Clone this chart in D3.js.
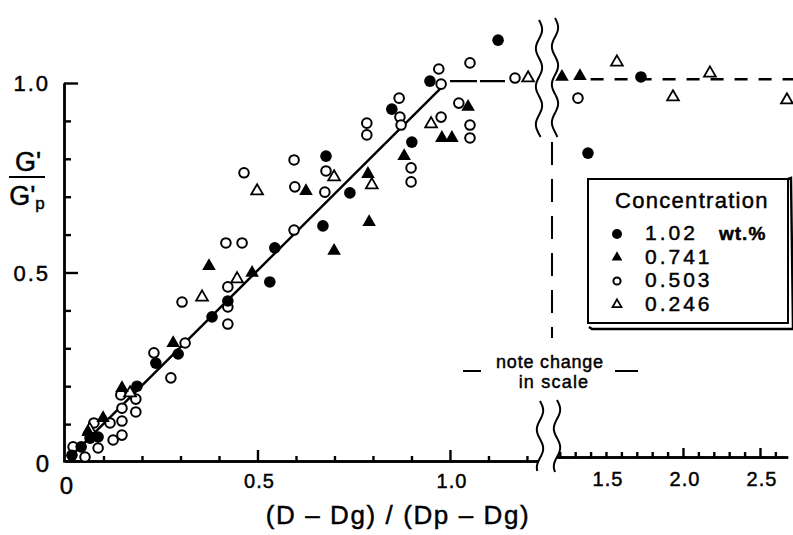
<!DOCTYPE html>
<html lang="en">
<head>
<meta charset="UTF-8">
<title>G'/G'p vs (D-Dg)/(Dp-Dg)</title>
<script src="https://cdn.jsdelivr.net/npm/d3@7/dist/d3.min.js"></script>
<style>
    html, body {
        margin: 0;
        padding: 0;
        background: #fff;
    }
    svg { display: block; }
    text {
        font-family: "Liberation Sans", Arial, sans-serif;
        fill: #000;
        stroke: #000;
        stroke-width: 0.45px;
    }
</style>
</head>
<body>
<svg id="chart" width="793" height="535"></svg>
<script>
    // ---- data: [x, G'/G'p] ----
    // left part of the x axis (0 .. 1.2)
    var c102 = [[0.018, 0.018], [0.042, 0.040], [0.065, 0.063], [0.086, 0.066], [0.187, 0.200],
        [0.236, 0.261], [0.294, 0.285], [0.382, 0.383], [0.423, 0.425], [0.532, 0.475],
        [0.545, 0.565], [0.670, 0.623], [0.678, 0.807], [0.740, 0.710], [0.849, 0.931],
        [0.901, 0.844], [0.948, 1.005], [1.125, 1.113]];
    var t741 = [[0.060, 0.079], [0.099, 0.116], [0.148, 0.195], [0.281, 0.314], [0.374, 0.517],
        [0.486, 0.499], [0.626, 0.715], [0.699, 0.557], [0.787, 0.760], [0.790, 0.633],
        [0.881, 0.807], [0.979, 0.855], [1.005, 0.855], [1.047, 0.937]];
    var c503 = [[0.021, 0.040], [0.052, 0.013], [0.075, 0.103], [0.086, 0.037], [0.117, 0.103],
        [0.125, 0.058], [0.148, 0.071], [0.148, 0.108], [0.148, 0.142], [0.145, 0.177],
        [0.184, 0.166], [0.184, 0.132], [0.231, 0.288], [0.275, 0.222], [0.304, 0.422],
        [0.312, 0.314], [0.423, 0.462], [0.423, 0.409], [0.423, 0.364], [0.418, 0.578],
        [0.460, 0.578], [0.465, 0.763], [0.595, 0.612], [0.595, 0.797], [0.597, 0.726],
        [0.678, 0.768], [0.675, 0.712], [0.784, 0.894], [0.784, 0.863], [0.868, 0.960],
        [0.870, 0.910], [0.873, 0.889], [0.899, 0.776], [0.899, 0.739], [0.971, 1.037],
        [0.977, 0.997], [0.977, 0.910], [1.023, 0.947], [1.052, 1.053], [1.052, 0.889],
        [1.052, 0.855], [1.169, 1.013]];
    var t246 = [[0.064, 0.086], [0.169, 0.182], [0.356, 0.435], [0.447, 0.483], [0.499, 0.715],
        [0.699, 0.752], [0.797, 0.731], [0.951, 0.892], [1.203, 1.013]];

    // right part of the x axis (after the scale change)
    var c102Far = [[1.383, 0.815], [1.727, 1.016]];
    var t741Far = [[1.214, 1.016], [1.331, 1.018]];
    var c503Far = [[1.318, 0.960]];
    var t246Far = [[1.571, 1.055], [1.935, 0.963], [2.175, 1.026], [2.675, 0.955]];

    // drawn lines
    var fitLine = [[0.015, 0.015], [0.975, 0.985]];
    var plateauNear = [[1.0, 1.005], [1.143, 1.005]];
    var plateauFar = [[1.40, 1.01], [2.72, 1.01]];

    // ticks and labels
    var yTickLabels = [0, 0.5, 1.0];
    var xTickLabels = [0, 0.5, 1.0];
    var xFarTickLabels = [1.5, 2.0, 2.5];
    var legendLabels = ["1.02", "0.741", "0.503", "0.246"];
    var legendKinds = ["dot", "tri", "ring", "openTri"];

    var svg = d3.select("#chart");

    var x = d3.scaleLinear().domain([0, 1.23]).range([65, 538.5]);
    var xFar = d3.scaleLinear().domain([1.18, 2.68]).range([556.7, 787.7]);
    var y = d3.scaleLinear().domain([0, 1]).range([462, 83]);

    // ---- axes ----
    function styleAxis(g) {
        g.selectAll("path, line").attr("stroke", "#000").attr("stroke-width", 2.4);
        g.selectAll("text").remove();
    }
    var yMinor = d3.range(1, 11).map(function (i) { return i / 10; }).filter(function (v) {
        return Math.abs(v - 0.5) > 1e-6 && Math.abs(v - 1) > 1e-6;
    });
    svg.append("g").attr("transform", "translate(64,0)")
        .call(d3.axisLeft(y).tickValues(yMinor).tickSize(-7).tickSizeOuter(0))
        .call(styleAxis);
    svg.append("g").attr("transform", "translate(64,0)")
        .call(d3.axisLeft(y).tickValues([0.5, 1.0]).tickSize(-14).tickSizeOuter(0))
        .call(styleAxis);

    var xMinor = d3.range(1, 13).map(function (i) { return i / 10; }).filter(function (v) {
        return Math.abs(v - 0.5) > 1e-6 && Math.abs(v - 1) > 1e-6;
    });
    svg.append("g").attr("transform", "translate(0,461)")
        .call(d3.axisBottom(x).tickValues(xMinor).tickSize(-5).tickSizeOuter(0))
        .call(styleAxis);
    svg.append("g").attr("transform", "translate(0,461)")
        .call(d3.axisBottom(x).tickValues([0.5, 1.0]).tickSize(-11).tickSizeOuter(0))
        .call(styleAxis);

    var xFarMinor = d3.range(12, 27).map(function (i) { return i / 10; }).filter(function (v) {
        return Math.abs(v - 2) > 1e-6 && Math.abs(v - 2.5) > 1e-6;
    });
    svg.append("g").attr("transform", "translate(0,457)")
        .call(d3.axisBottom(xFar).tickValues(xFarMinor).tickSize(-5).tickSizeOuter(0))
        .call(styleAxis);
    svg.append("g").attr("transform", "translate(0,457)")
        .call(d3.axisBottom(xFar).tickValues([2.0, 2.5]).tickSize(-9).tickSizeOuter(0))
        .call(styleAxis);

    // tick labels
    svg.selectAll(".ylab").data(yTickLabels).enter().append("text")
        .attr("x", function (d) { return d === 0 ? 51 : 50; })
        .attr("y", function (d) { return y(d) + (d === 0 ? 10 : 8); })
        .attr("text-anchor", "end")
        .attr("font-size", function (d) { return d === 0 ? 24 : 22; })
        .attr("letter-spacing", 2)
        .text(function (d) { return d === 0 ? "0" : d3.format(".1f")(d); });

    svg.selectAll(".xlab").data(xTickLabels).enter().append("text")
        .attr("x", function (d) { return x(d) + 2; })
        .attr("y", function (d) { return d === 0 ? 494 : 488; })
        .attr("text-anchor", "middle")
        .attr("font-size", function (d) { return d === 0 ? 24 : 20; })
        .attr("letter-spacing", 1)
        .text(function (d) { return d === 0 ? "0" : d3.format(".1f")(d); });

    svg.selectAll(".xfarlab").data(xFarTickLabels).enter().append("text")
        .attr("x", function (d) { return xFar(d) + 2; })
        .attr("y", 486)
        .attr("text-anchor", "middle")
        .attr("font-size", 20)
        .attr("letter-spacing", 1)
        .text(function (d) { return d3.format(".1f")(d); });

    // axis titles
    svg.append("text")
        .attr("x", 398).attr("y", 524)
        .attr("text-anchor", "middle")
        .attr("font-size", 26)
        .attr("letter-spacing", 1.6)
        .text("(D \u2013 Dg) / (Dp \u2013 Dg)");

    svg.append("text")
        .attr("x", 28).attr("y", 171)
        .attr("text-anchor", "middle")
        .attr("font-size", 27)
        .text("G'");
    svg.append("line")
        .attr("x1", 9).attr("x2", 45).attr("y1", 177).attr("y2", 177)
        .attr("stroke", "#000").attr("stroke-width", 2.2);
    var den = svg.append("text")
        .attr("x", 27).attr("y", 205)
        .attr("text-anchor", "middle")
        .attr("font-size", 27);
    den.append("tspan").text("G'");
    den.append("tspan").attr("font-size", 17).attr("dy", 4).text("p");

    // ---- scale break decorations ----
    function wave(cx, y0, y1) {
        var pts = d3.range(0, 1.0001, 0.02).map(function (t) {
            return [cx + 3.2 * Math.sin(t * (y1 - y0) / 38 * 2 * Math.PI), y0 + t * (y1 - y0)];
        });
        return d3.line().curve(d3.curveBasis)(pts);
    }
    [[539, 20, 137], [555, 18, 137], [540, 401, 471], [557, 400, 472]].forEach(function (w) {
        svg.append("path").attr("d", wave(w[0], w[1], w[2]))
            .attr("fill", "none").attr("stroke", "#000").attr("stroke-width", 2);
    });
    svg.append("line")
        .attr("x1", 552).attr("x2", 552).attr("y1", 142).attr("y2", 338)
        .attr("stroke", "#000").attr("stroke-width", 2)
        .attr("stroke-dasharray", "23,14");

    svg.append("text")
        .attr("x", 550).attr("y", 368)
        .attr("text-anchor", "middle")
        .attr("font-size", 18)
        .attr("letter-spacing", 0.8)
        .text("note change");
    svg.append("text")
        .attr("x", 554).attr("y", 388)
        .attr("text-anchor", "middle")
        .attr("font-size", 18)
        .attr("letter-spacing", 1.2)
        .text("in  scale");
    svg.append("line").attr("x1", 463).attr("x2", 481).attr("y1", 371).attr("y2", 371)
        .attr("stroke", "#000").attr("stroke-width", 2);
    svg.append("line").attr("x1", 615).attr("x2", 638).attr("y1", 371).attr("y2", 371)
        .attr("stroke", "#000").attr("stroke-width", 2);

    // ---- lines ----
    var lineNear = d3.line().x(function (d) { return x(d[0]); }).y(function (d) { return y(d[1]); });
    var lineFar = d3.line().x(function (d) { return xFar(d[0]); }).y(function (d) { return y(d[1]); });

    svg.append("path").attr("d", lineNear(fitLine))
        .attr("fill", "none").attr("stroke", "#000").attr("stroke-width", 2.4);
    svg.append("path").attr("d", lineNear(plateauNear))
        .attr("fill", "none").attr("stroke", "#000").attr("stroke-width", 2.4)
        .attr("stroke-dasharray", "27,3");
    svg.append("path").attr("d", lineFar(plateauFar))
        .attr("fill", "none").attr("stroke", "#000").attr("stroke-width", 2.4)
        .attr("stroke-dasharray", "13,11");

    // ---- markers ----
    function marker(g, kind, px, py, small) {
        if (kind === "dot") {
            g.append("circle").attr("cx", px).attr("cy", py).attr("r", small ? 5 : 5.8).attr("fill", "#000");
        } else if (kind === "ring") {
            g.append("circle").attr("cx", px).attr("cy", py).attr("r", small ? 3.6 : 4.8)
                .attr("fill", "#fff").attr("stroke", "#000").attr("stroke-width", 2);
        } else if (kind === "tri") {
            g.append("path").attr("d", d3.symbol(d3.symbolTriangle, small ? 50 : 80)())
                .attr("transform", "translate(" + px + "," + py + ")").attr("fill", "#000");
        } else {
            g.append("path").attr("d", d3.symbol(d3.symbolTriangle, small ? 34 : 60)())
                .attr("transform", "translate(" + px + "," + py + ")")
                .attr("fill", "#fff").attr("stroke", "#000").attr("stroke-width", 1.8);
        }
    }
    function plot(data, kind, sx) {
        var g = svg.append("g");
        data.forEach(function (d) { marker(g, kind, sx(d[0]), y(d[1]), false); });
    }
    plot(c503, "ring", x);
    plot(t246, "openTri", x);
    plot(t741, "tri", x);
    plot(c102, "dot", x);
    plot(c503Far, "ring", xFar);
    plot(t246Far, "openTri", xFar);
    plot(t741Far, "tri", xFar);
    plot(c102Far, "dot", xFar);

    // ---- legend ----
    var lg = svg.append("g");
    lg.append("path")
        .attr("d", "M589,327 L592,329 L793,329 L791,178 L788,179")
        .attr("fill", "none").attr("stroke", "#000").attr("stroke-width", 2.4);
    lg.append("rect")
        .attr("x", 588).attr("y", 179).attr("width", 200).attr("height", 144)
        .attr("fill", "#fff").attr("stroke", "#000").attr("stroke-width", 2);
    lg.append("text")
        .attr("x", 615).attr("y", 208)
        .attr("font-size", 22)
        .attr("letter-spacing", 1.3)
        .text("Concentration");
    legendLabels.forEach(function (lab, i) {
        var by = 240 + i * 23.5;
        marker(lg, legendKinds[i], 617, by - 6, true);
        lg.append("text")
            .attr("x", 645).attr("y", by)
            .attr("font-size", 21)
            .attr("letter-spacing", 3)
            .text(lab);
    });
    lg.append("text")
        .attr("x", 719).attr("y", 240)
        .attr("font-size", 19)
        .attr("font-weight", "bold")
        .attr("letter-spacing", 1)
        .text("wt.%");
</script>
</body>
</html>
